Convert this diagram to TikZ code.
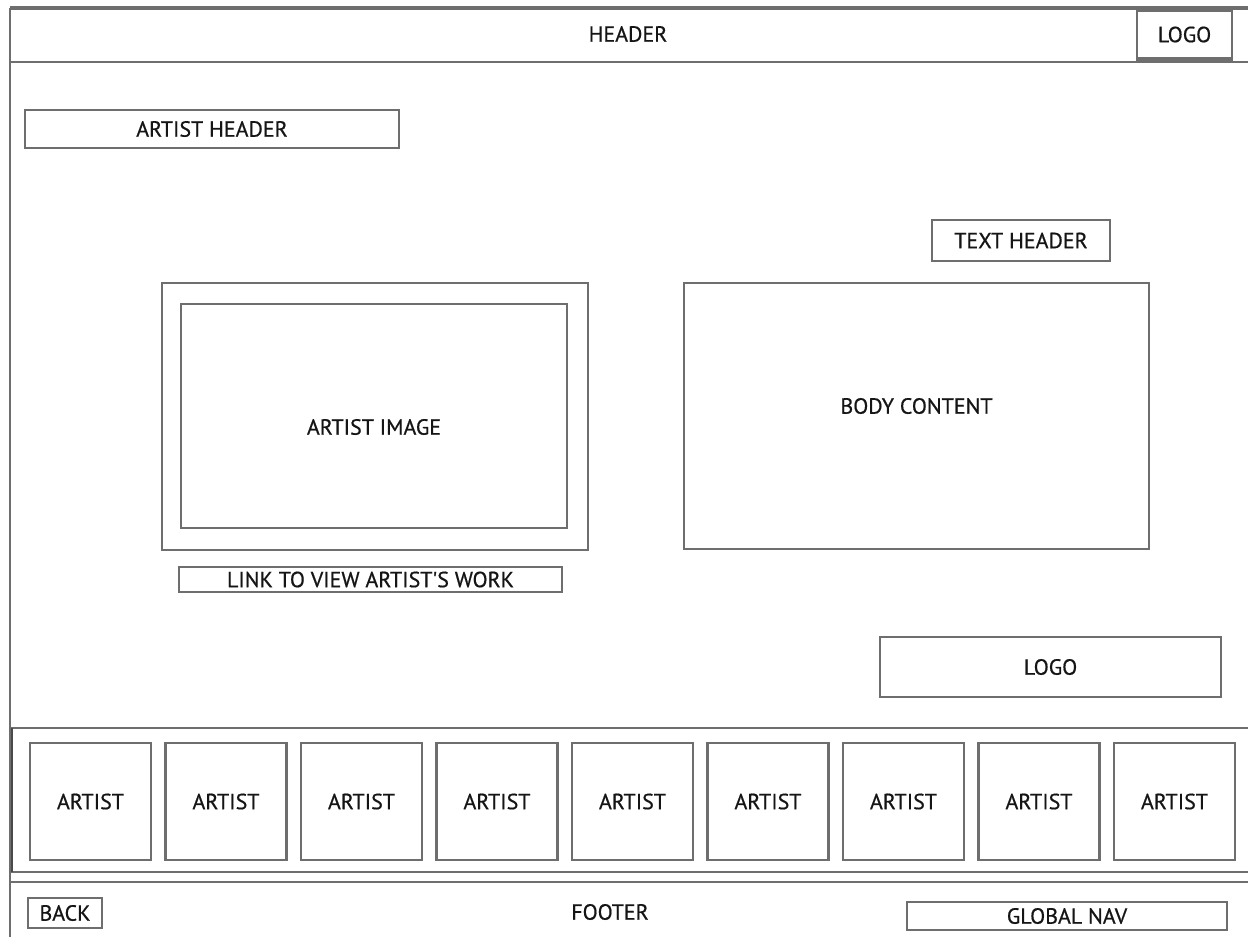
\documentclass[tikz,border=0pt]{standalone}
\usepackage{xcolor}
\usepackage{fontspec}
\setmainfont{PT Sans}[Ligatures=TeXOff, FakeBold=0.6]
\usepackage{tikz}
\usetikzlibrary{positioning}
\definecolor{frame}{HTML}{6E6E6E}
\definecolor{ink}{HTML}{151515}
\definecolor{edge}{HTML}{4A4A4A}

\tikzset{
  rule/.style={draw=frame, line width=1.6pt},
  box/.style={draw=frame, line width=1.3pt, fill=white, inner sep=0pt,
              text=ink, font=\fontsize{12.5}{13}\selectfont},
  lbl/.style={text=ink, inner sep=0pt, font=\fontsize{12.5}{13}\selectfont},
  tile/.style={box, minimum width=2.42cm, minimum height=2.34cm}
}

\begin{document}
\begin{tikzpicture}[x=0.02cm, y=-0.02cm]
\useasboundingbox[fill=white] (0,0) rectangle (1248,937);

% page frame and bands
\draw[rule, line width=2.2pt] (10,8) -- (1248,8);
\draw[rule] (10,937) -- (10,8);
\draw[rule] (10,62) -- (1248,62);
\draw[rule] (10,728) -- (1248,728);
\draw[rule] (10,872) -- (1248,872);
\draw[rule] (10,882) -- (1248,882);
\draw[draw=edge, line width=1.6pt] (12,728) -- (12,872);

% header
\node[lbl] (header) at (628,34) {HEADER};
\node[box, minimum width=1.9cm, minimum height=0.94cm] (logotop) at (1184.5,34.5) {LOGO};
\draw[rule, line width=2.2pt] (logotop.south west) -- (logotop.south east);

% content
\node[box, minimum width=7.48cm, minimum height=0.76cm] (artisthdr) at (212,129) {ARTIST HEADER};
\node[box, minimum width=3.56cm, minimum height=0.82cm] (texthdr) at (1021,240.5) {TEXT HEADER};
\node[box, minimum width=8.52cm, minimum height=5.34cm] (imgframe) at (375,416.5) {};
\node[box, minimum width=7.72cm, minimum height=4.48cm] (artistimg) at (374,416) {};
\node[lbl] (artistimgtxt) at ([yshift=-11*0.02cm]artistimg.center) {ARTIST IMAGE};
\node[box, minimum width=7.66cm, minimum height=0.5cm] (worklink) at (370.5,579.5) {LINK TO VIEW ARTIST'S WORK};
\node[box, minimum width=9.3cm, minimum height=5.32cm] (body) at (916.5,416) {};
\node[lbl] (bodytxt) at ([yshift=10*0.02cm]body.center) {BODY CONTENT};
\node[box, minimum width=6.82cm, minimum height=1.2cm] (logo) at (1050.5,667) {LOGO};

% artist strip
\foreach \i in {0,...,8}
  \node[tile] (artist\i) at (90.5+135.5*\i,801.5) {ARTIST};

% footer
\node[box, minimum width=1.48cm, minimum height=0.6cm] (back) at (65,913) {BACK};
\node[lbl] (footer) at (610,912) {FOOTER};
\node[box, minimum width=6.4cm, minimum height=0.56cm] (globalnav) at (1067,916) {GLOBAL NAV};
\end{tikzpicture}
\end{document}
